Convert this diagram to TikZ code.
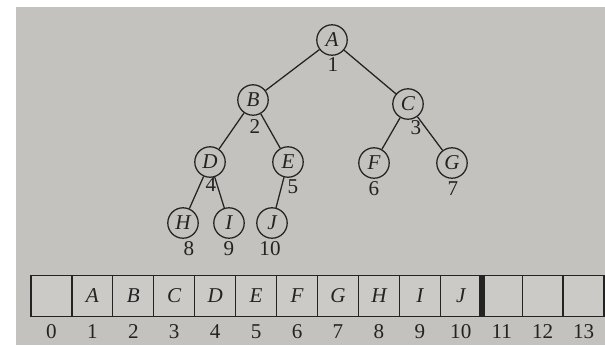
\documentclass[tikz,border=0pt]{standalone}
\usepackage{fontspec}
\setmainfont{Liberation Serif}
\definecolor{page}{RGB}{196,194,190}
\definecolor{cellfill}{RGB}{204,202,198}
\definecolor{ink}{RGB}{35,35,35}
\tikzset{
    vertex/.style={circle,draw=ink,line width=0.9pt,fill=page,minimum size=0.76cm,inner sep=0pt,font=\fontsize{15}{18}\selectfont\itshape,text=ink},
    idx/.style={font=\fontsize{15}{18}\selectfont,text=ink,inner sep=0pt},
    edge/.style={draw=ink,line width=0.9pt}
}
\newcommand{\cellw}{40.93}
\begin{document}
\begin{tikzpicture}[x=0.025cm,y=-0.025cm]
    \useasboundingbox (0,0) rectangle (605,345);
    \fill[white] (0,0) rectangle (605,345);
    \fill[page] (16,7) rectangle (605,345);
    % tree
    \node[vertex] (A) at (332,40) {A};
    \node[vertex] (B) at (253,100) {B};
    \node[vertex] (C) at (408,104) {C};
    \node[vertex] (D) at (210,162) {D};
    \node[vertex] (E) at (288,162) {E};
    \node[vertex] (F) at (374,163) {F};
    \node[vertex] (G) at (452,163) {G};
    \node[vertex] (H) at (183,223) {H};
    \node[vertex] (I) at (229,223) {I};
    \node[vertex] (J) at (272,223) {J};
    \node[idx] (n1) at (333,65) {1};
    \node[idx] (n2) at (255,127) {2};
    \node[idx] (n3) at (416,128) {3};
    \node[idx] (n4) at (211,185) {4};
    \node[idx] (n5) at (293,187) {5};
    \node[idx] (n6) at (374,189) {6};
    \node[idx] (n7) at (453,189) {7};
    \node[idx] (n8) at (189,249) {8};
    \node[idx] (n9) at (229,249) {9};
    \node[idx] (n10) at (270,249) {10};
    \draw[edge] (A) -- (B);
    \draw[edge] (A) -- (C);
    \draw[edge] (B) -- (D);
    \draw[edge] (B) -- (E);
    \draw[edge] (C) -- (F);
    \draw[edge] (C) -- (G);
    \draw[edge] (D) -- (H);
    \draw[edge] (D) -- (I);
    \draw[edge] (E) -- (J);
    % array
    \foreach \i/\t in {0/,1/A,2/B,3/C,4/D,5/E,6/F,7/G,8/H,9/I,10/J,11/,12/,13/}{
        \node[draw=ink,line width=0.9pt,fill=cellfill,minimum width=\cellw*0.025cm,minimum height=1.04cm,inner sep=0pt,
              font=\fontsize{15}{18}\selectfont\itshape,text=ink] (c\i) at ({31+\cellw*(\i+0.5)},296) {\t};
        \node[idx] (k\i) at ({31+\cellw*(\i+0.5)},332) {\i};
    }
    \draw[ink,line width=4pt] (c10.north east) -- (c10.south east);
\end{tikzpicture}
\end{document}
